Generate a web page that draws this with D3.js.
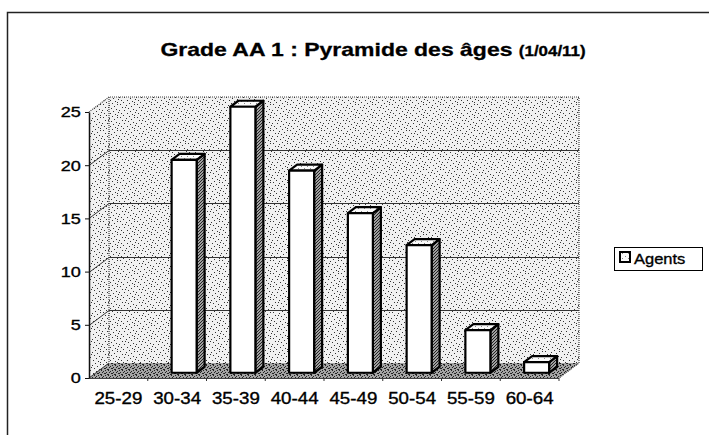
<!DOCTYPE html>
<html><head><meta charset="utf-8">
<script src="https://cdn.jsdelivr.net/npm/d3@7"></script>
<style>
html,body{margin:0;padding:0;background:#fff;}
svg{display:block;font-family:"Liberation Sans",Arial,sans-serif;}
</style></head>
<body>
<script>
// ---- data ----
const categories = ["25-29","30-34","35-39","40-44","45-49","50-54","55-59","60-64"];
const agents = [0,20,25,19,15,12,4,1];
const yTicks = [0,5,10,15,20,25];
const seriesName = "Agents";
const titleMain = "Grade AA 1 : Pyramide des âges ";
const titleSub = "(1/04/11)";

// ---- layout ----
const W = 709, H = 435;
const DX = 20, DY = 15;      // depth offset of back wall
const d0 = 0.35, d1 = 0.75;  // bar depth range
const SX = 1.17;             // horizontal stretch of text

const svg = d3.select("body").append("svg").attr("width", W).attr("height", H);
const defs = svg.append("defs");

function pattern(id, size, bg, fg, dots){
  const p = defs.append("pattern").attr("id", id).attr("patternUnits","userSpaceOnUse")
    .attr("width", size[0]).attr("height", size[1]);
  p.append("rect").attr("width", size[0]).attr("height", size[1]).attr("fill", bg);
  dots.forEach(d => p.append("rect").attr("x", d[0]).attr("y", d[1]).attr("width",1).attr("height",1).attr("fill", fg));
}
pattern("wall", [17,13], "#f1f1f1", "#333",
  [[1,0],[7,1],[12,2],[15,0],[3,3],[9,4],[14,5],[0,6],[5,6],[11,7],[16,8],[2,9],[8,9],[13,10],[4,11],[10,12],[6,3],[15,11]]);
pattern("floor", [7,5], "#a4a4a4", "#222",
  [[0,0],[3,0],[5,1],[1,2],[4,2],[6,3],[2,4],[0,3],[3,4]]);
pattern("side", [3,3], "#a0a0a0", "#222", [[0,0],[2,1],[1,2]]);
pattern("top", [6,5], "#fbfbfb", "#888", [[1,1],[4,3]]);

const x = d3.scaleBand().domain(categories).range([89, 559]).padding(0);
const y = d3.scaleLinear().domain([0, 25]).range([378, 112]);

const x0 = x.range()[0], x1 = x.range()[1];
const yb = y(0), yt = y(25);

// back wall
svg.append("polygon")
  .attr("points", [[x0+DX,yt-DY],[x1+DX,yt-DY],[x1+DX,yb-DY],[x0+DX,yb-DY]].join(" "))
  .attr("fill","url(#wall)");
// left side wall
svg.append("polygon")
  .attr("points", [[x0,yt],[x0+DX,yt-DY],[x0+DX,yb-DY],[x0,yb]].join(" "))
  .attr("fill","url(#wall)");
// floor
svg.append("polygon")
  .attr("points", [[x0,yb],[x0+DX,yb-DY],[x1+DX,yb-DY],[x1,yb]].join(" "))
  .attr("fill","url(#floor)");

// wall borders (dotted)
const edge = svg.append("g").attr("fill","none").attr("stroke","#444").attr("stroke-width",1.2).attr("stroke-dasharray","1,1");
edge.append("path").attr("d", `M${x0},${yt}L${x0+DX},${yt-DY}L${x1+DX},${yt-DY}L${x1+DX},${yb-DY}L${x1},${yb}`);
edge.append("path").attr("d", `M${x0+DX},${yt-DY}L${x0+DX},${yb-DY}`);

// gridlines
const grid = svg.append("g").attr("stroke","#333").attr("stroke-width",1).attr("fill","none");
yTicks.filter(v => v > 0 && v < 25).forEach(v => {
  const yy = Math.round(y(v)) + 0.5;
  grid.append("path").attr("d", `M${x0},${yy}L${x0+DX},${yy-DY}L${x1+DX},${yy-DY}`);
});
svg.append("path").attr("d", `M${x0},${yb}L${x0+DX},${yb-DY}`).attr("stroke","#333").attr("fill","none");
svg.append("line").attr("x1", x0).attr("x2", x1).attr("y1", yb+0.5).attr("y2", yb+0.5).attr("stroke","#444");

// bars
const barW = 25;
const sdx = (d1-d0)*DX, sdy = (d1-d0)*DY;
const bars = svg.append("g").attr("stroke","#000").attr("stroke-width",2.2).attr("stroke-linejoin","round");
categories.forEach((c, i) => {
  const v = agents[i];
  if (v <= 0) return;
  const L = x(c) + x.bandwidth()/2 - barW/2 + d0*DX;
  const top = y(v) - d0*DY, bot = y(0) - d0*DY;
  bars.append("polygon").attr("fill","url(#side)")
    .attr("points", [[L+barW,top],[L+barW+sdx,top-sdy],[L+barW+sdx,bot-sdy],[L+barW,bot]].join(" "));
  bars.append("polygon").attr("fill","url(#top)")
    .attr("points", [[L,top],[L+sdx,top-sdy],[L+barW+sdx,top-sdy],[L+barW,top]].join(" "));
  bars.append("rect").attr("fill","#fff")
    .attr("x", L).attr("y", top).attr("width", barW).attr("height", bot-top);
});

const TS = {"stroke":"#000","stroke-width":0.35};

// y axis
const yAxis = svg.append("g").attr("transform", `translate(${x0},0)`)
  .call(d3.axisLeft(y).tickValues(yTicks).tickSize(4).tickSizeOuter(0).tickPadding(3));
yAxis.select(".domain").attr("stroke","#111").attr("stroke-width",1.5);
yAxis.selectAll(".tick line").attr("stroke","#111");
yAxis.selectAll(".tick text").attr("font-size",15.5).attr("font-family","'Liberation Sans',Arial,sans-serif")
  .attr("fill","#000").attr("stroke",TS.stroke).attr("stroke-width",TS["stroke-width"])
  .attr("transform", `scale(${SX},1)`);

// x axis
const xAxis = svg.append("g").attr("transform", `translate(0,${yb})`)
  .call(d3.axisBottom(x).tickSize(0).tickPadding(15));
xAxis.select(".domain").remove();
xAxis.selectAll(".tick text").attr("font-size",16).attr("font-family","'Liberation Sans',Arial,sans-serif")
  .attr("fill","#000").attr("stroke",TS.stroke).attr("stroke-width",TS["stroke-width"])
  .attr("transform", `scale(${SX},1)`);
svg.append("g").selectAll("line").data(categories).join("line")
  .attr("x1", d => x(d) + x.bandwidth())
  .attr("x2", d => x(d) + x.bandwidth())
  .attr("y1", yb).attr("y2", yb+3).attr("stroke","#333");

// title
const title = svg.append("text").attr("transform", `translate(373,56) scale(${SX+0.04},1)`)
  .attr("text-anchor","middle").attr("font-weight","bold").attr("fill","#000")
  .attr("stroke","#000").attr("stroke-width",0.3);
title.append("tspan").attr("font-size",19).text(titleMain);
title.append("tspan").attr("font-size",14).text(titleSub);

// legend
const lg = svg.append("g");
lg.append("rect").attr("x",614.5).attr("y",247.5).attr("width",88).attr("height",23)
  .attr("fill","#fff").attr("stroke","#000").attr("stroke-width",1);
lg.append("rect").attr("x",620).attr("y",252).attr("width",10).attr("height",10)
  .attr("fill","url(#top)").attr("stroke","#000").attr("stroke-width",2);
lg.append("text").attr("transform", `translate(634,264) scale(${SX-0.07},1)`)
  .attr("font-size",15).attr("fill","#000").attr("stroke",TS.stroke).attr("stroke-width",TS["stroke-width"])
  .text(seriesName);

// outer border
svg.append("path").attr("d", "M7.5,435L7.5,12.5L709,12.5").attr("fill","none")
  .attr("stroke","#222").attr("stroke-width",1.5);
</script>
</body></html>
